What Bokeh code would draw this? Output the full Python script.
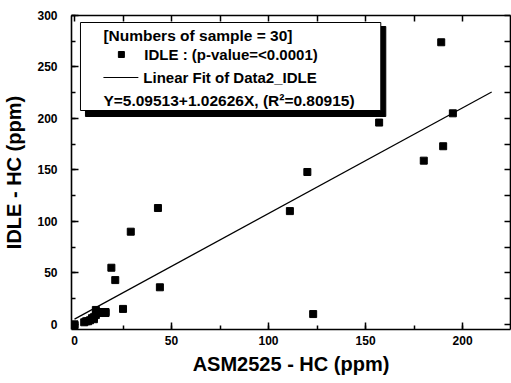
from bokeh.plotting import figure
from bokeh.models import (LinearAxis, SingleIntervalTicker, FixedTicker, Label,
                          BoxAnnotation, Range1d, ColumnDataSource)
from bokeh.embed import file_html
from bokeh.resources import INLINE

# ---------------- data ----------------
asm_hc = [0, 0, 5, 6, 7, 8, 9, 10, 10, 11, 11, 12, 13, 14, 16, 16, 25,
          19, 21, 29, 43, 44,
          111, 120, 123, 157, 180, 190, 195, 189]
idle_hc = [0, -1, 2, 3, 3, 4, 6, 7, 5, 9, 14, 12, 11, 12, 12, 11, 15,
           55, 43, 90, 113, 36,
           110, 148, 10, 196, 159, 173, 205, 274]
fit_intercept = 5.09513
fit_slope = 1.02626
fit_x = [0, 215]
fit_y = [fit_intercept + fit_slope * v for v in fit_x]

legend_title = "[Numbers of sample = 30]"
legend_scatter = "IDLE : (p-value=<0.0001)"
legend_line = "Linear Fit of Data2_IDLE"
legend_eq = "Y=5.09513+1.02626X, (R\u00b2=0.80915)"

x_label = "ASM2525 - HC (ppm)"
y_label = "IDLE - HC (ppm)"

FONT = "Liberation Sans"
X0, X1 = -1.55, 224.7
Y0, Y1 = -5, 300

# ---------------- figure ----------------
p = figure(width=511, height=383, x_range=Range1d(X0, X1), y_range=Range1d(Y0, Y1),
           output_backend="svg", toolbar_location=None,
           min_border_left=70, min_border_right=1, min_border_top=15, min_border_bottom=54)
p.grid.visible = False
p.outline_line_color = None
p.background_fill_color = "white"
p.border_fill_color = "white"

def style_axis(ax, labels=True):
    ax.axis_line_width = 1.6
    ax.axis_line_color = "black"
    ax.major_tick_in = 7
    ax.major_tick_out = 0
    ax.minor_tick_in = 4
    ax.minor_tick_out = 0
    ax.major_tick_line_width = 1.5
    ax.minor_tick_line_width = 1.5
    ax.major_tick_line_color = "black"
    ax.minor_tick_line_color = "black"
    if labels:
        ax.ticker = SingleIntervalTicker(interval=50, num_minor_ticks=2)
        ax.major_label_text_font = FONT
        ax.major_label_text_font_style = "bold"
        ax.major_label_text_font_size = "12px"
        ax.major_label_text_color = "black"
        ax.axis_label_text_font = FONT
        ax.axis_label_text_font_style = "bold"
        ax.axis_label_text_font_size = "20px"
        ax.axis_label_text_color = "black"

style_axis(p.xaxis[0])
style_axis(p.yaxis[0])
p.xaxis[0].axis_label = x_label
p.xaxis[0].major_label_standoff = 6
p.xaxis[0].axis_label_standoff = 5
p.yaxis[0].axis_label = y_label
p.yaxis[0].major_label_standoff = 14
p.yaxis[0].axis_label_standoff = 9

# top / right frame axes: ticks only, no labels
top_ax = LinearAxis(ticker=FixedTicker(ticks=[], minor_ticks=list(range(0, 225, 25))),
                    major_label_standoff=0)
style_axis(top_ax, labels=False)
top_ax.minor_tick_in = 6
right_ax = LinearAxis(ticker=FixedTicker(ticks=[], minor_ticks=list(range(0, 301, 25))),
                      major_label_standoff=0)
style_axis(right_ax, labels=False)
right_ax.minor_tick_in = 6
p.add_layout(top_ax, "above")
p.add_layout(right_ax, "right")

# ---------------- data marks ----------------
src = ColumnDataSource(dict(x=asm_hc, y=idle_hc))
p.scatter("x", "y", source=src, marker="square", size=7, fill_color="black",
          line_color="black")
p.line(fit_x, fit_y, line_color="black", line_width=1.2)

# ---------------- pixel-to-data helpers ----------------
FL, FR, FT, FB = 70, 510, 15, 329
def px(ix):
    return X0 + (ix - FL) * (X1 - X0) / (FR - FL)
def py(iy):
    return Y1 - (iy - FT) * (Y1 - Y0) / (FB - FT)

# ---------------- manual legend ----------------
p.add_layout(BoxAnnotation(left=px(84), right=px(385), top=py(26), bottom=py(116),
                           fill_color="black", fill_alpha=1.0, line_color="black",
                           line_alpha=1.0))
p.add_layout(BoxAnnotation(left=px(79), right=px(380), top=py(22), bottom=py(110),
                           fill_color="white", fill_alpha=1.0, line_color="black",
                           line_width=1, line_alpha=1.0))

def add_text(ix, iy, txt, size="15px"):
    p.add_layout(Label(x=px(ix), y=py(iy), text=txt, text_font=FONT,
                       text_font_style="bold", text_font_size=size,
                       text_baseline="middle", text_align="left", text_color="black",
                       level="overlay"))

add_text(102, 35, legend_title, "15.5px")
add_text(143, 54, legend_scatter)
add_text(142, 77, legend_line)
add_text(102, 100, legend_eq, "15.5px")
p.scatter([px(120)], [py(54)], marker="square", size=6, fill_color="black",
          line_color="black", level="overlay")
p.line([px(102), px(137)], [py(77), py(77)], line_color="black", line_width=1.2,
       level="overlay")

open("out.html", "w").write(file_html(p, INLINE))
